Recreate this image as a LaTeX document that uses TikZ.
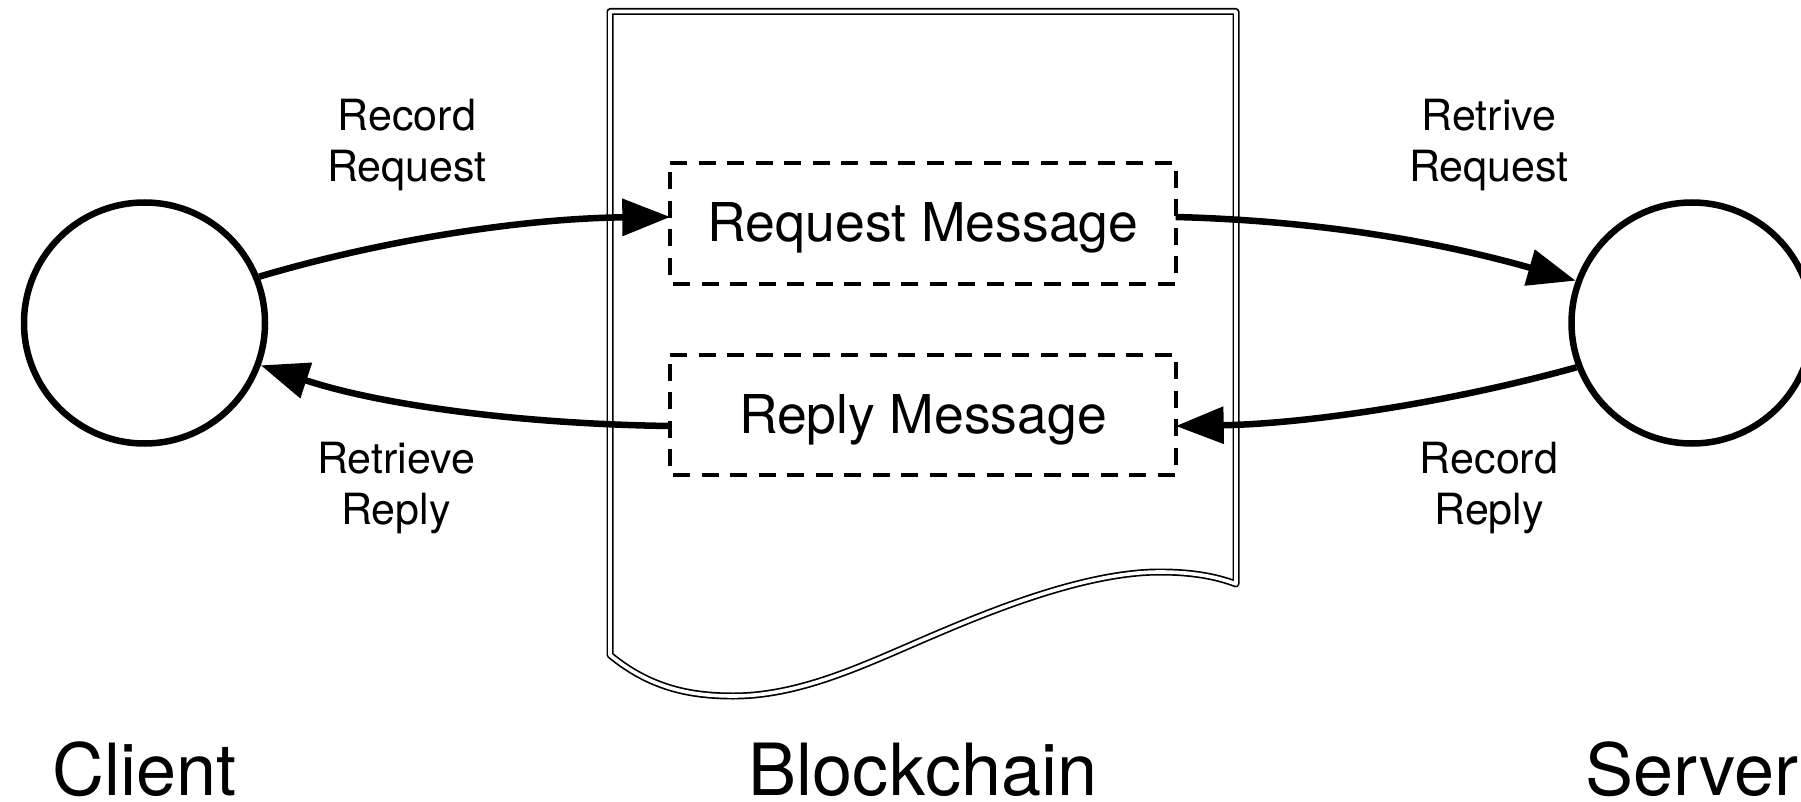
\documentclass[tikz,border=0pt]{standalone}
\usepackage{fontspec}
\setmainfont{TeX Gyre Heros}
\usetikzlibrary{arrows.meta}
\tikzset{
  x=1pt,y=-1pt,
  peer/.style={circle,draw,line width=6.5pt,minimum size=241pt,inner sep=0pt},
  msgbox/.style={minimum width=505pt,minimum height=120pt,inner sep=0pt,font=\fontsize{53.5pt}{60pt}\selectfont},
  dashbox/.style={line width=3.7pt,dash pattern=on 17pt off 11.5pt},
  flow/.style={line width=6.5pt,-{Triangle[length=48pt,width=36pt]}},
  doc/.style={line width=1.7pt,double=white,double distance=3.6pt,line join=round},
  small/.style={align=center,inner sep=0pt,font=\fontsize{43pt}{51pt}\selectfont},
  big/.style={inner sep=0pt,anchor=base,font=\fontsize{72pt}{80pt}\selectfont},
}
\begin{document}
\begin{tikzpicture}
\clip (0,0) rectangle (1801,802);
\fill[white] (0,0) rectangle (1801,802);
\draw[doc] (610,11.5) -- (1236,11.5) -- (1236,584)
  .. controls (1215,576) and (1190,572) .. (1160,572)
  .. controls (1085,572) and (990,611) .. (927,638)
  .. controls (864,665) and (800,696) .. (733,696)
  .. controls (690,696) and (650,688) .. (610,655) -- cycle;
\node[peer] (client) at (144.5,323) {};
\node[peer] (server) at (1692,323) {};
\node[msgbox] (req) at (923,223.5) {\raisebox{-18.5pt}[0pt][0pt]{Request Message}};
\node[msgbox] (rep) at (923,415) {\raisebox{-18.5pt}[0pt][0pt]{Reply Message}};
\draw[dashbox] (req.north west) -- (req.north east) -- (req.south east) -- (req.south west) -- cycle;
\draw[dashbox] (rep.north west) -- (rep.north east) -- (rep.south east) -- (rep.south west) -- cycle;
\coordinate (reqin) at ([yshift=6.5pt]req.west);
\coordinate (reqout) at ([yshift=6.5pt]req.east);
\coordinate (repin) at ([yshift=-11pt]rep.east);
\coordinate (repout) at ([yshift=-11pt]rep.west);
\draw[flow] (client.22) .. controls (400,235) and (540,218) .. (reqin);
\draw[flow] (reqout) .. controls (1330,221) and (1450,245) .. (server.160);
\draw[flow] (server.201) .. controls (1440,405) and (1300,424) .. (repin);
\draw[flow] (repout) .. controls (520,424) and (380,405) .. (client.340);
\node[small] (l1) at (407,145) {Record\\Request};
\node[small] (l2) at (1489,145) {Retrive\\Request};
\node[small] (l3) at (396,488) {Retrieve\\Reply};
\node[small] (l4) at (1489,488) {Record\\Reply};
\node[big] (n1) at (144.5,795) {Client};
\node[big] (n2) at (923,795) {Blockchain};
\node[big] (n3) at (1692,795) {Server};
\end{tikzpicture}
\end{document}
